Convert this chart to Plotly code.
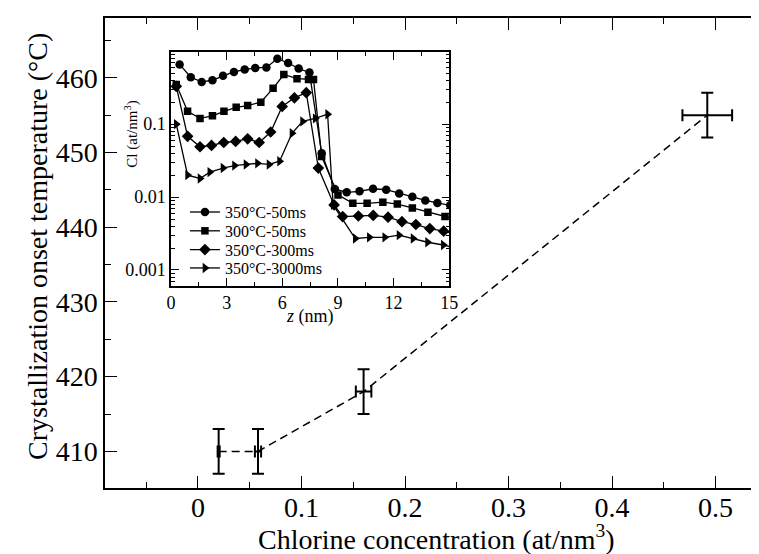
import plotly.graph_objects as go

# ---------------- main data ----------------
cl_conc = [0.020, 0.058, 0.160, 0.492]
cl_conc_err = [0.001, 0.003, 0.0075, 0.024]
onset_T = [410, 410, 418, 455]
onset_T_err = [3, 3, 3, 3]

# ---------------- inset data (Cl profiles) ----------------
z_350_50 = [0.46, 1.06, 1.65, 2.23, 2.80, 3.39, 3.97, 4.54, 5.14, 5.73, 6.31, 6.88, 7.46,
            8.12, 8.83, 9.47, 10.16, 10.89, 11.60, 12.30, 13.01, 13.71, 14.36, 15.05]
cl_350_50 = [0.66, 0.44, 0.38, 0.40, 0.46, 0.52, 0.56, 0.59, 0.60, 0.79, 0.69, 0.58, 0.51,
             0.040, 0.0129, 0.0116, 0.0120, 0.0130, 0.0126, 0.0112, 0.0101, 0.0090, 0.0083, 0.0077]

z_300_50 = [0.28, 0.89, 1.56, 2.23, 2.85, 3.51, 4.13, 4.84, 5.50, 6.08, 6.79, 7.41, 7.68,
            8.12, 9.00, 9.80, 10.57, 11.42, 12.20, 13.01, 13.85, 14.77, 15.3]
cl_300_50 = [0.35, 0.15, 0.12, 0.13, 0.15, 0.17, 0.18, 0.20, 0.31, 0.48, 0.42, 0.41, 0.41,
             0.036, 0.0107, 0.0082, 0.0082, 0.0085, 0.0080, 0.0071, 0.0062, 0.0054, 0.0050]

z_350_300 = [0.28, 0.89, 1.56, 2.18, 2.84, 3.48, 4.13, 4.75, 5.37, 5.99, 6.65, 7.29,
             7.94, 8.79, 9.25, 10.10, 10.90, 11.70, 12.45, 13.20, 13.95, 14.70, 15.3]
cl_350_300 = [0.33, 0.068, 0.049, 0.051, 0.056, 0.058, 0.063, 0.056, 0.078, 0.175, 0.23, 0.27,
              0.025, 0.0078, 0.0054, 0.0055, 0.0056, 0.0053, 0.0046, 0.0042, 0.0037, 0.0034, 0.0031]

z_350_3000 = [0.28, 0.89, 1.56, 2.09, 2.80, 3.42, 4.04, 4.66, 5.28, 5.85, 6.52, 7.09, 7.77, 8.44,
              8.74, 9.93, 10.69, 11.52, 12.29, 13.05, 13.83, 14.68, 15.3]
cl_350_3000 = [0.10, 0.020, 0.018, 0.022, 0.025, 0.027, 0.028, 0.029, 0.028, 0.031, 0.075, 0.109,
               0.12, 0.137, 0.0078, 0.0027, 0.0028, 0.0028, 0.0030, 0.0027, 0.0024, 0.0022, 0.0020]

legend_labels = ["350°C-50ms", "300°C-50ms", "350°C-300ms", "350°C-3000ms"]

main_xticks = [0, 0.1, 0.2, 0.3, 0.4, 0.5]
main_xtick_text = ["0", "0.1", "0.2", "0.3", "0.4", "0.5"]
main_yticks = [410, 420, 430, 440, 450, 460]
inset_xticks = [0, 3, 6, 9, 12, 15]
inset_yticks = [0.001, 0.01, 0.1]
inset_ytick_text = ["0.001", "0.01", "0.1"]

FONT = "Liberation Serif, Times New Roman, serif"

fig = go.Figure()

fig.add_trace(go.Scatter(
    x=cl_conc, y=onset_T, mode="lines",
    line=dict(color="black", width=1.5, dash="8px,5px"),
    error_x=dict(type="data", array=cl_conc_err, color="black", thickness=2, width=6),
    error_y=dict(type="data", array=onset_T_err, color="black", thickness=2, width=6),
    showlegend=False, xaxis="x", yaxis="y"))

inset_series = [
    (z_350_50, cl_350_50, "circle", 8.5),
    (z_300_50, cl_300_50, "square", 7.5),
    (z_350_300, cl_350_300, "diamond", 9),
    (z_350_3000, cl_350_3000, "triangle-right", 9),
]
legend_ids = ["legend", "legend2", "legend3", "legend4"]
for (zz, cc, sym, sz), lab, lid in zip(inset_series, legend_labels, legend_ids):
    fig.add_trace(go.Scatter(
        x=zz, y=cc, mode="lines+markers", name=lab, legend=lid,
        line=dict(color="black", width=1.3),
        marker=dict(symbol=sym, size=sz, color="black"),
        xaxis="x2", yaxis="y2"))

axis_common = dict(showline=True, linecolor="black", linewidth=1.5, showgrid=False,
                   zeroline=False, ticks="inside", tickcolor="black", tickwidth=1)

# legend row centres (paper fractions)
legend_y = [0.587, 0.547, 0.507, 0.468]
legend_common = dict(x=0.1224, xanchor="left", yanchor="middle",
                     bgcolor="rgba(0,0,0,0)", font=dict(size=16, family=FONT),
                     itemwidth=30)

fig.update_layout(
    width=759, height=554,
    margin=dict(l=97, r=0, t=10, b=74),
    paper_bgcolor="white", plot_bgcolor="white",
    font=dict(family=FONT, color="black"),
    xaxis=dict(**axis_common, range=[-0.0898, 0.541], domain=[0, 1],
               tickvals=main_xticks, ticktext=main_xtick_text,
               ticklen=12, mirror="allticks", ticklabelstandoff=-6,
               minor=dict(ticks="inside", ticklen=6, dtick=0.05, tick0=0, tickcolor="black", showgrid=False),
               tickfont=dict(size=28, family=FONT)),
    yaxis=dict(**axis_common, range=[405.1, 468.0], domain=[0, 1],
               tickvals=main_yticks, ticklen=12, mirror=False,
               minor=dict(ticks="inside", ticklen=6, dtick=5, tick0=405, tickcolor="black", showgrid=False),
               tickfont=dict(size=28, family=FONT)),
    yaxis3=dict(overlaying="y", side="right", anchor="x", range=[405.1, 468.0],
                showline=False, showgrid=False, zeroline=False, ticks="inside",
                ticklen=4, tickcolor="black", tickvals=main_yticks,
                showticklabels=False),
    xaxis2=dict(**axis_common, anchor="y2", domain=[0.1012, 0.5272], range=[0, 15],
                tickvals=inset_xticks, ticklen=8, mirror="allticks",
                minor=dict(ticks="inside", ticklen=4, dtick=1.5, tick0=0, tickcolor="black", showgrid=False),
                tickfont=dict(size=18, family=FONT)),
    yaxis2=dict(**axis_common, anchor="x2", domain=[0.4298, 0.9277], type="log",
                range=[-3.22, -0.01], tickvals=inset_yticks,
                ticktext=inset_ytick_text, ticklen=8, mirror="allticks",
                minor=dict(ticks="inside", ticklen=4, dtick="D1", tickcolor="black", showgrid=False),
                tickfont=dict(size=18, family=FONT)),
    legend=dict(**legend_common, y=legend_y[0]),
    legend2=dict(**legend_common, y=legend_y[1]),
    legend3=dict(**legend_common, y=legend_y[2]),
    legend4=dict(**legend_common, y=legend_y[3]),
    annotations=[
        dict(text="Chlorine concentration (at/nm<sup>3</sup>)", xref="paper", yref="paper",
             x=0.508, y=-0.147, xanchor="center", yanchor="bottom", showarrow=False,
             font=dict(size=28, family=FONT)),
        dict(text="Crystallization onset temperature (°C)", xref="paper", yref="paper",
             x=-0.1027, y=0.515, xanchor="center", yanchor="middle", textangle=-90,
             showarrow=False, font=dict(size=28, family=FONT)),
        dict(text="<i>z</i> (nm)", xref="paper", yref="paper",
             x=0.3142, y=(480 - 308) / 470, xanchor="center", yanchor="middle",
             showarrow=False, font=dict(size=18, family=FONT)),
        dict(text="Cl (at/nm<sup>3</sup>)", xref="paper", yref="paper",
             x=(123 - 97) / 662, y=(480 - 126) / 470, xanchor="center", yanchor="middle",
             textangle=-90, showarrow=False, font=dict(size=15, family=FONT)),
    ],
)

fig.write_html("out.html")
